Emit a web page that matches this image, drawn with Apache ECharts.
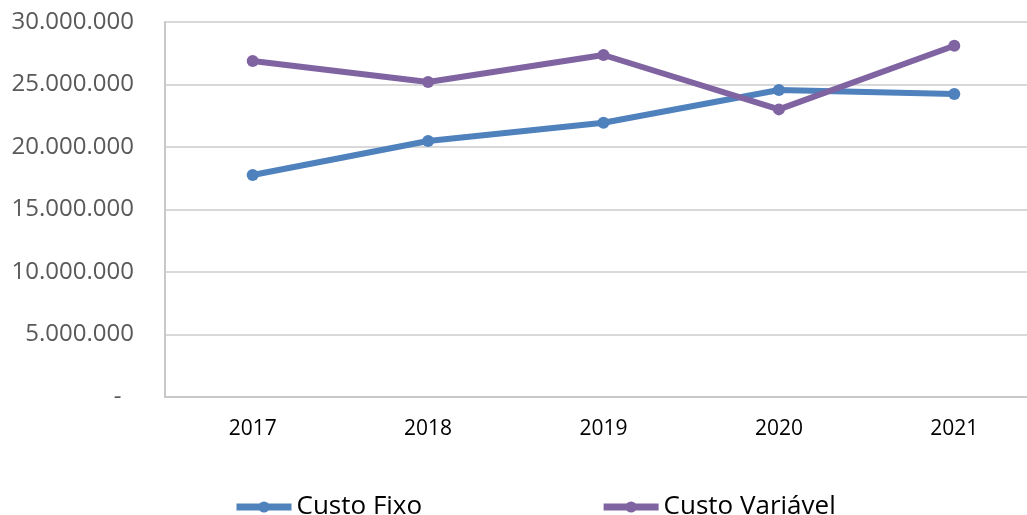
<!DOCTYPE html>
<html>
<head>
<meta charset="utf-8">
<script src="https://cdn.jsdelivr.net/npm/echarts@6/dist/echarts.min.js"></script>
<style>
  html, body { margin: 0; padding: 0; background: #ffffff; }
  #chart { width: 1027px; height: 515px; }
</style>
</head>
<body>
<div id="chart"></div>
<script>
// dados
var anos = ['2017', '2018', '2019', '2020', '2021']
var custoFixo = [17760000, 20480000, 21940000, 24560000, 24240000]
var custoVariavel = [26880000, 25200000, 27360000, 23010000, 28100000]

// 30000000 -> "30.000.000", 0 -> "-"
function fmtMil(v) {
  if (v === 0) return '-  '
  return String(v).replace(/\B(?=(\d{3})+(?!\d))/g, '.')
}

var myChart = echarts.init(document.getElementById('chart'))
var option = {
  animation: false,
  grid: {
    left: 165,
    width: 877,
    top: 22,
    bottom: 118,
    outerBoundsMode: 'none',
    containLabel: false
  },
  legend: {
    left: 228,
    top: 489,
    itemWidth: 55,
    itemHeight: 14,
    itemGap: 178,
    lineStyle: { width: 7 },
    textStyle: {
      fontFamily: 'Open Sans',
      fontSize: 26,
      color: '#000000',
      lineHeight: 26
    },
    data: ['Custo Fixo', 'Custo Variável']
  },
  xAxis: {
    type: 'category',
    boundaryGap: true,
    data: anos,
    axisLine: { show: true, lineStyle: { color: '#C8C8C8', width: 2 } },
    axisTick: { show: false },
    axisLabel: {
      margin: 22,
      fontFamily: 'Open Sans',
      fontSize: 21,
      color: '#000000'
    }
  },
  yAxis: {
    type: 'value',
    min: 0,
    max: 30000000,
    interval: 5000000,
    axisLine: { show: true, lineStyle: { color: '#C8C8C8', width: 2 } },
    axisTick: { show: false },
    splitLine: { lineStyle: { color: '#D9D9D9', width: 2 } },
    axisLabel: {
      margin: 31,
      fontFamily: 'Open Sans',
      fontSize: 24,
      color: '#595959',
      formatter: fmtMil
    }
  },
  series: [
    {
      name: 'Custo Fixo',
      type: 'line',
      data: custoFixo,
      symbol: 'circle',
      symbolSize: 12,
      itemStyle: { color: '#4F81BD' },
      lineStyle: { width: 6, color: '#4F81BD' }
    },
    {
      name: 'Custo Variável',
      type: 'line',
      data: custoVariavel,
      symbol: 'circle',
      symbolSize: 12,
      itemStyle: { color: '#8064A2' },
      lineStyle: { width: 6, color: '#8064A2' }
    }
  ]
}
myChart.setOption(option)
</script>
</body>
</html>
